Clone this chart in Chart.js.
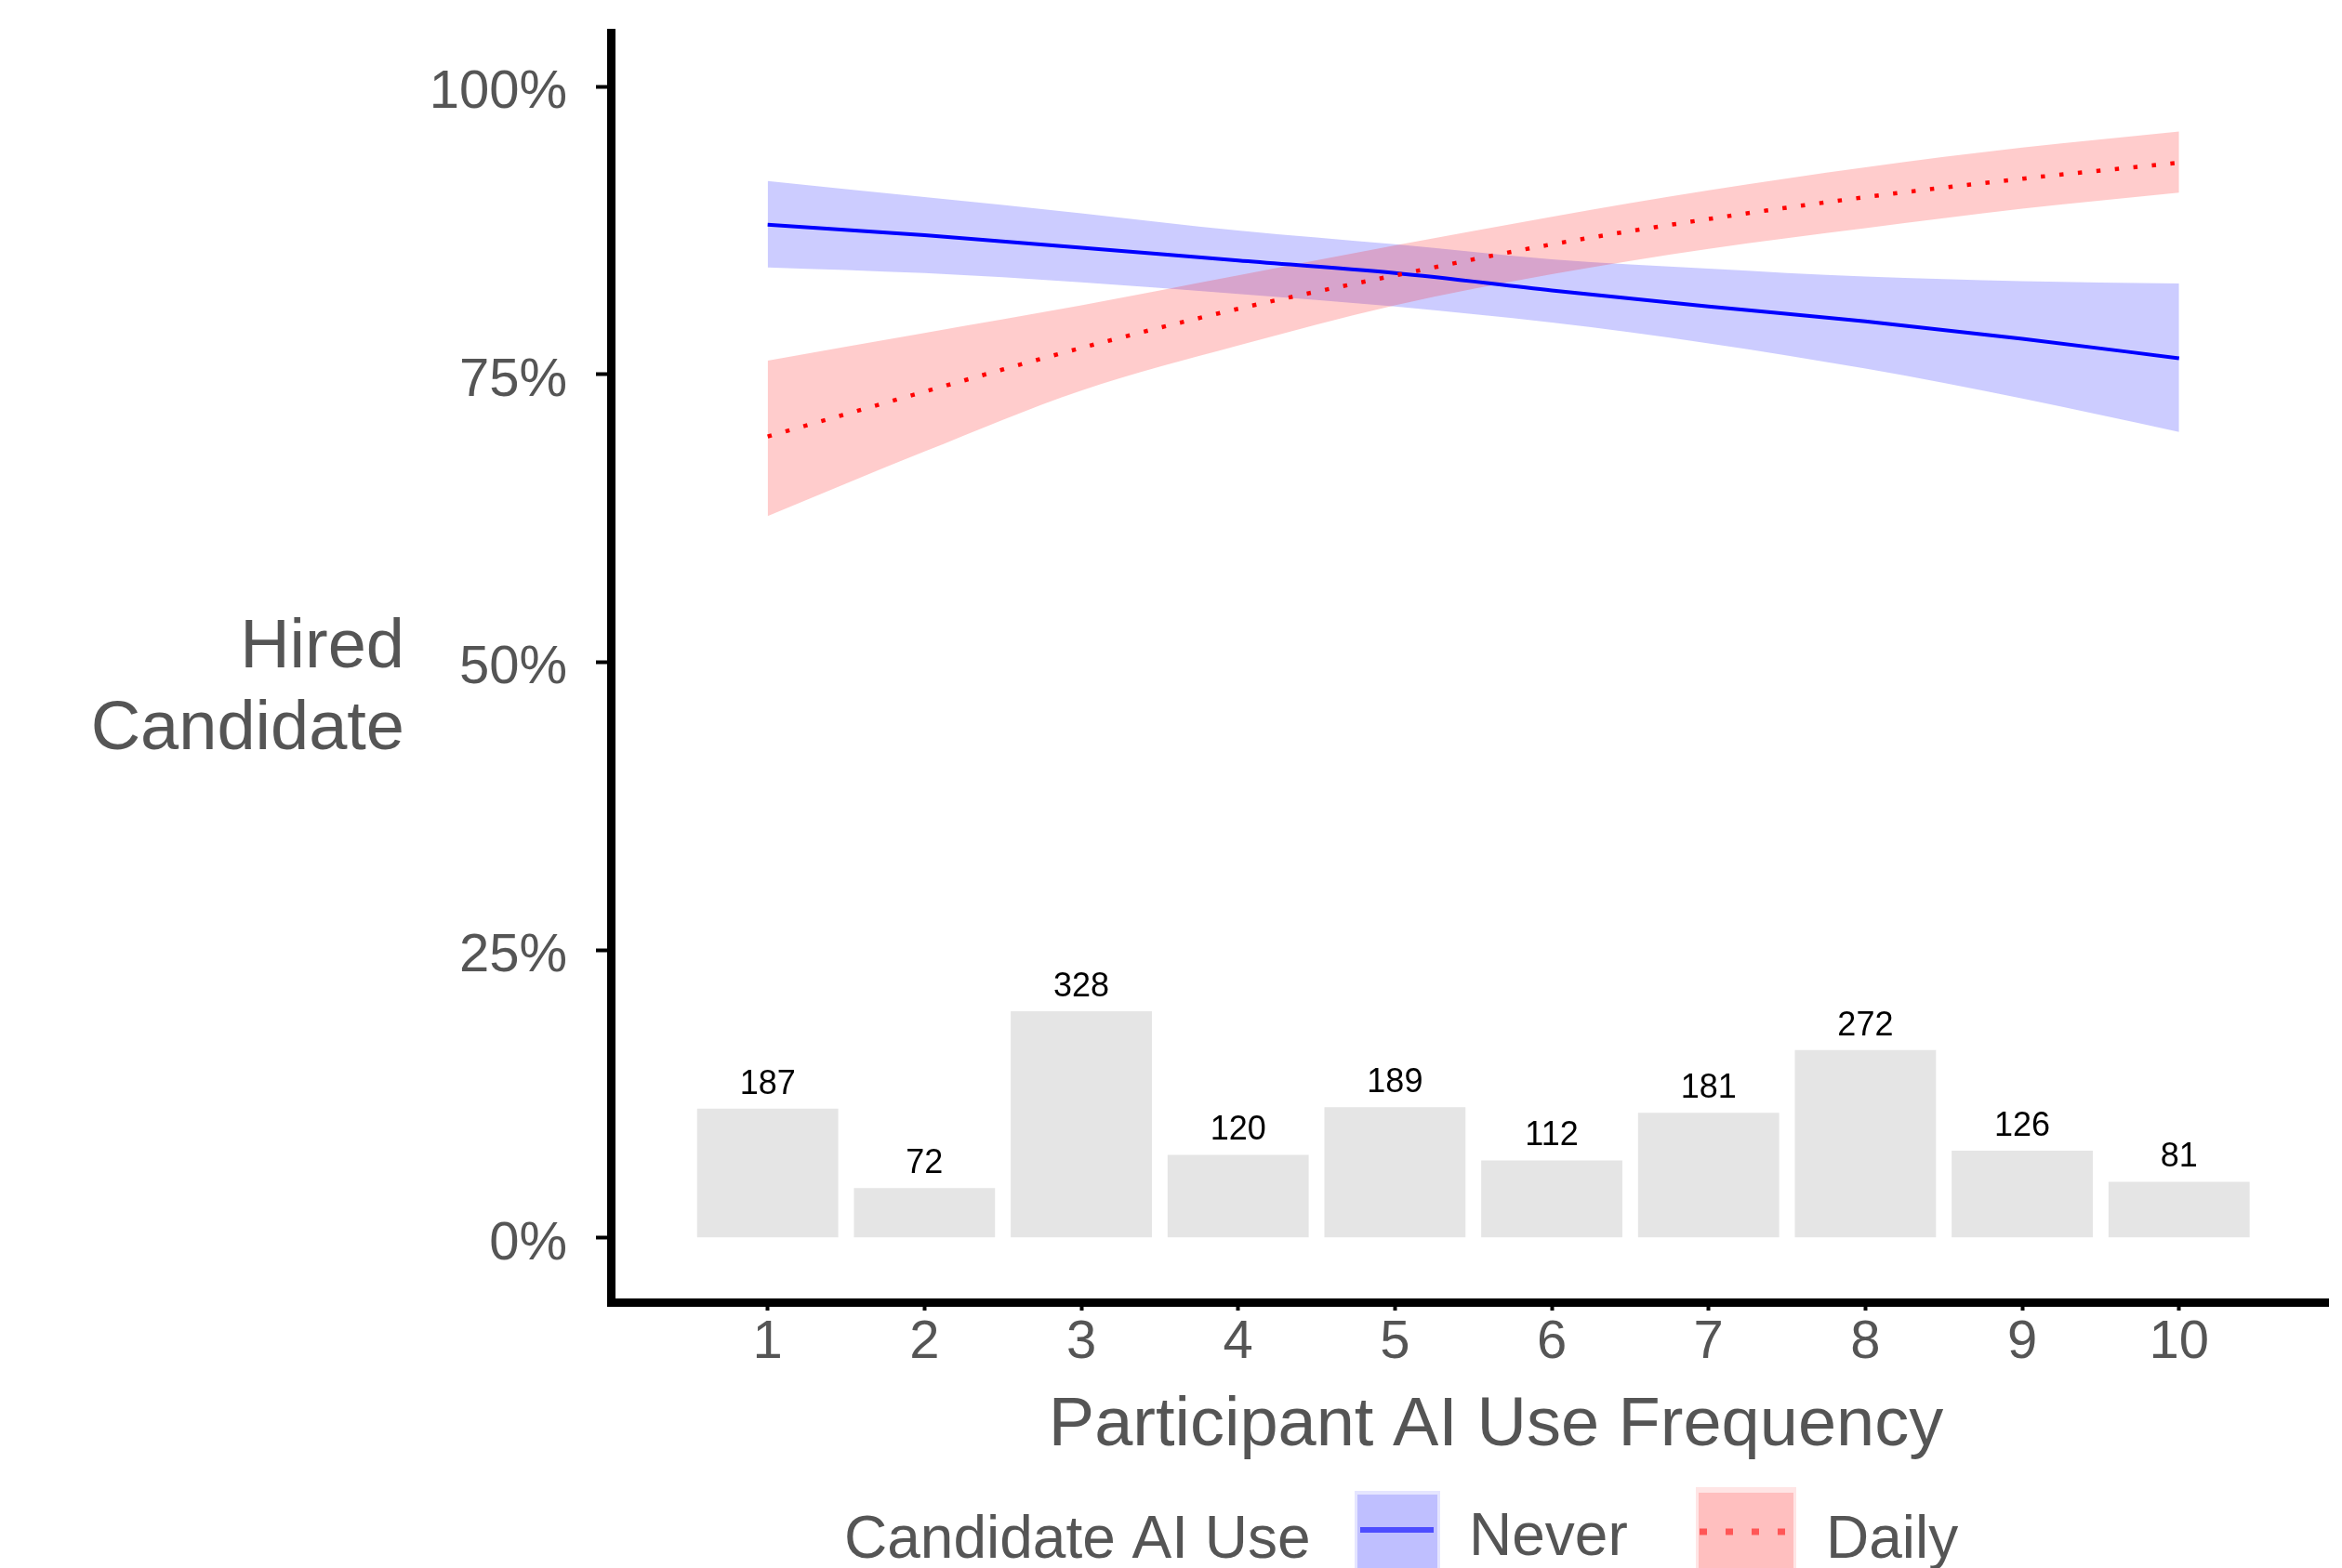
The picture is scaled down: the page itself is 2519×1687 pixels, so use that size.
<!DOCTYPE html>
<html>
<head>
<meta charset="utf-8">
<script src="https://cdn.jsdelivr.net/npm/chart.js@4.4.1/dist/chart.umd.min.js"></script>
<style>
  html, body { margin: 0; padding: 0; background: #ffffff; }
  #wrap { width: 2519px; height: 1687px; position: relative; }
</style>
</head>
<body>
<div id="wrap"><canvas id="c" width="2519" height="1687"></canvas></div>
<script>
// ---- data ----
const xValues = [1, 2, 3, 4, 5, 6, 7, 8, 9, 10];
const counts = [187, 72, 328, 120, 189, 112, 181, 272, 126, 81];
const neverFit   = [88.0, 87.1, 86.0, 84.9, 83.8, 82.3, 80.9, 79.6, 78.1, 76.4];
const neverUpper = [91.8, 90.4, 89.0, 87.5, 86.3, 85.0, 84.2, 83.5, 83.1, 82.9];
const neverLower = [84.3, 83.8, 83.0, 82.0, 80.9, 79.5, 77.7, 75.5, 72.9, 70.0];
const dailyFit   = [69.6, 73.5, 77.3, 80.7, 83.6, 86.3, 88.5, 90.4, 92.0, 93.4];
const dailyUpper = [76.2, 78.6, 81.0, 83.6, 86.2, 88.7, 91.0, 93.0, 94.7, 96.1];
const dailyLower = [62.7, 68.3, 73.6, 77.5, 81.0, 83.7, 85.9, 87.7, 89.4, 90.8];
const yTickValues = [0, 25, 50, 75, 100];
const xTickValues = [1, 2, 3, 4, 5, 6, 7, 8, 9, 10];
const xTitle = 'Participant AI Use Frequency';
const yTitleLines = ['Hired', 'Candidate'];
const legendTitle = 'Candidate AI Use';
const seriesNames = ['Never', 'Daily'];

// ---- derived ----
const total = counts.reduce((a, b) => a + b, 0);
const pts = arr => xValues.map((x, i) => ({ x: x, y: arr[i] }));
const barPts = xValues.map((x, i) => ({ x: x, y: counts[i] / total * 100 }));

const FONT = '"Liberation Sans", Arial, Helvetica, sans-serif';
const GREY = '#555555';

const decorPlugin = {
  id: 'decor',
  afterDatasetsDraw(chart) {
    const ctx = chart.ctx;
    const meta = chart.getDatasetMeta(0);
    ctx.save();
    ctx.fillStyle = '#000000';
    ctx.font = '36px ' + FONT;
    ctx.textAlign = 'center';
    ctx.textBaseline = 'middle';
    meta.data.forEach((bar, i) => {
      ctx.fillText(String(counts[i]), bar.x, bar.y - 26);
    });
    ctx.restore();
  },
  afterDraw(chart) {
    const ctx = chart.ctx;
    ctx.save();
    ctx.fillStyle = GREY;
    // y title (horizontal, right aligned)
    ctx.font = '74px ' + FONT;
    ctx.textAlign = 'right';
    ctx.textBaseline = 'alphabetic';
    ctx.fillText(yTitleLines[0], 435, 718);
    ctx.fillText(yTitleLines[1], 435, 806);
    // x title
    ctx.textAlign = 'center';
    ctx.fillText(xTitle, 1609, 1555);
    // legend
    ctx.font = '64px ' + FONT;
    ctx.textAlign = 'left';
    ctx.fillText(legendTitle, 908, 1676);
    // Never key
    ctx.fillStyle = 'rgba(0,0,255,0.10)';
    ctx.fillRect(1457, 1604, 92, 90);
    ctx.fillStyle = 'rgba(0,0,255,0.17)';
    ctx.fillRect(1460, 1608, 86, 86);
    ctx.strokeStyle = 'rgba(0,0,255,0.6)';
    ctx.lineWidth = 6;
    ctx.beginPath();
    ctx.moveTo(1463, 1646);
    ctx.lineTo(1542, 1646);
    ctx.stroke();
    ctx.fillStyle = GREY;
    ctx.fillText(seriesNames[0], 1580, 1673);
    // Daily key
    ctx.fillStyle = 'rgba(255,0,0,0.10)';
    ctx.fillRect(1824, 1600, 108, 94);
    ctx.fillStyle = 'rgba(255,0,0,0.17)';
    ctx.fillRect(1827, 1606, 102, 88);
    ctx.strokeStyle = 'rgba(255,0,0,0.55)';
    ctx.lineWidth = 7;
    ctx.setLineDash([8, 20]);
    ctx.beginPath();
    ctx.moveTo(1828, 1648);
    ctx.lineTo(1928, 1648);
    ctx.stroke();
    ctx.setLineDash([]);
    ctx.fillStyle = GREY;
    ctx.fillText(seriesNames[1], 1964, 1676);
    ctx.restore();
  }
};

const tickFont = { family: FONT, size: 58 };

new Chart(document.getElementById('c'), {
  data: {
    datasets: [
      {
        type: 'bar', label: 'count', data: barPts,
        backgroundColor: '#E5E5E5', borderWidth: 0,
        categoryPercentage: 1, barPercentage: 0.9, order: 10
      },
      {
        type: 'line', label: 'neverUpper', data: pts(neverUpper),
        borderWidth: 0, pointRadius: 0, fill: '+1',
        backgroundColor: 'rgba(0,0,255,0.2)', cubicInterpolationMode: 'monotone', order: 9
      },
      {
        type: 'line', label: 'neverLower', data: pts(neverLower),
        borderWidth: 0, pointRadius: 0, fill: false,
        cubicInterpolationMode: 'monotone', order: 9
      },
      {
        type: 'line', label: 'dailyUpper', data: pts(dailyUpper),
        borderWidth: 0, pointRadius: 0, fill: '+1',
        backgroundColor: 'rgba(255,0,0,0.2)', cubicInterpolationMode: 'monotone', order: 8
      },
      {
        type: 'line', label: 'dailyLower', data: pts(dailyLower),
        borderWidth: 0, pointRadius: 0, fill: false,
        cubicInterpolationMode: 'monotone', order: 8
      },
      {
        type: 'line', label: seriesNames[0], data: pts(neverFit),
        borderColor: '#0000FF', borderWidth: 4, pointRadius: 0, fill: false,
        cubicInterpolationMode: 'monotone', order: 7
      },
      {
        type: 'line', label: seriesNames[1], data: pts(dailyFit),
        borderColor: '#FF0000', borderWidth: 4.5, pointRadius: 0, fill: false,
        borderDash: [4.5, 15.5], borderCapStyle: 'butt',
        cubicInterpolationMode: 'monotone', order: 6
      }
    ]
  },
  options: {
    responsive: false,
    animation: false,
    layout: { padding: { top: 35, right: 15, left: 0, bottom: 0 } },
    plugins: { legend: { display: false }, tooltip: { enabled: false } },
    scales: {
      x: {
        type: 'linear', min: 0, max: 10.95, offset: false,
        afterBuildTicks: s => { s.ticks = xTickValues.map(v => ({ value: v })); },
        afterFit: s => { s.height = 286; s.paddingLeft = 0; s.paddingRight = 0; },
        ticks: { font: tickFont, color: GREY, padding: 0, maxRotation: 0, autoSkip: false,
                 callback: v => String(v) },
        grid: { offset: false, drawOnChartArea: false, tickLength: 9, tickWidth: 4, tickColor: '#000000' },
        border: { display: true, color: '#000000', width: 9 }
      },
      y: {
        type: 'linear', min: -5.6, max: 104.7,
        afterBuildTicks: s => { s.ticks = yTickValues.map(v => ({ value: v })); },
        afterFit: s => { s.width = 657; s.paddingTop = 0; s.paddingBottom = 0; },
        ticks: { font: tickFont, color: GREY, padding: 31, labelOffset: 7, callback: v => v + '%' },
        grid: { drawOnChartArea: false, tickLength: 16, tickWidth: 4, tickColor: '#000000' },
        border: { display: true, color: '#000000', width: 9 }
      }
    }
  },
  plugins: [decorPlugin]
});
</script>
</body>
</html>
